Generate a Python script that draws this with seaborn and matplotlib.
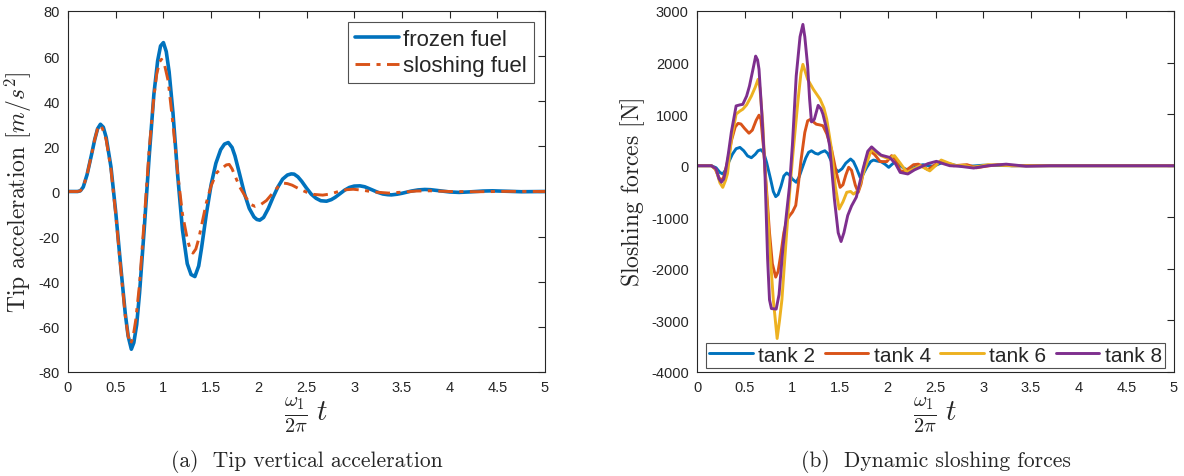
import numpy as np
import pandas as pd
import matplotlib
matplotlib.use("Agg")
import matplotlib.pyplot as plt
import seaborn as sns

# ---------------- data ----------------
t_frozen = [0.00, 0.10, 0.13, 0.16, 0.20, 0.25, 0.28, 0.31, 0.34, 0.37, 0.40, 0.45, 0.50, 0.55,
            0.60, 0.63, 0.664, 0.69, 0.72, 0.75, 0.80, 0.85, 0.90, 0.94, 0.97, 1.00, 1.03, 1.06,
            1.10, 1.15, 1.20, 1.25, 1.29, 1.33, 1.37, 1.40, 1.45, 1.50, 1.55, 1.60, 1.64, 1.68,
            1.72, 1.75, 1.80, 1.85, 1.90, 1.95, 1.98, 2.01, 2.05, 2.10, 2.15, 2.20, 2.25, 2.30,
            2.34, 2.37, 2.41, 2.45, 2.50, 2.55, 2.60, 2.65, 2.71, 2.76, 2.80, 2.85, 2.90, 2.95,
            3.00, 3.06, 3.11, 3.15, 3.20, 3.25, 3.30, 3.35, 3.39, 3.45, 3.50, 3.60, 3.67, 3.74,
            3.80, 3.90, 4.00, 4.10, 4.20, 4.35, 4.45, 4.60, 4.75, 5.00]
a_frozen = [0, 0, 0.3, 2, 7.5, 17, 23, 27.8, 29.8, 28.5, 24, 11, -9, -32,
            -54, -64, -69.9, -67, -59, -45, -16, 15, 43, 58, 64.5, 66, 62, 53,
            35, 7, -17, -32, -36.8, -37.7, -33, -25, -10, 3, 12.5, 18.5, 21, 21.7,
            19.5, 15.8, 7.5, -1, -7.5, -11.3, -12.4, -12.7, -11.5, -7.5, -2.5, 2, 5.5, 7.3,
            7.8, 7.7, 6.5, 4.5, 1.5, -1.2, -3, -4.1, -4.3, -3.6, -2.6, -1, 0.6, 1.8,
            2.4, 2.5, 2.1, 1.4, 0.5, -0.4, -1.1, -1.4, -1.5, -1.2, -0.8, 0.2, 0.7, 0.9,
            0.8, 0.3, -0.2, -0.4, -0.2, 0.2, 0.3, 0.1, -0.1, 0]

t_slosh = [0.00, 0.10, 0.13, 0.16, 0.20, 0.25, 0.28, 0.31, 0.33, 0.36, 0.40, 0.45, 0.50, 0.55,
           0.60, 0.63, 0.654, 0.68, 0.71, 0.75, 0.80, 0.85, 0.90, 0.93, 0.96, 0.98, 1.01, 1.05,
           1.10, 1.15, 1.20, 1.25, 1.28, 1.31, 1.34, 1.37, 1.40, 1.45, 1.50, 1.56, 1.62, 1.66,
           1.69, 1.72, 1.76, 1.80, 1.87, 1.92, 1.96, 2.02, 2.08, 2.15, 2.20, 2.23, 2.26, 2.30,
           2.35, 2.43, 2.50, 2.58, 2.67, 2.75, 2.85, 2.92, 2.99, 3.10, 3.20, 3.36, 3.50, 3.65,
           3.80, 4.00, 4.30, 4.60, 5.00]
a_slosh = [0, 0, 0.3, 2, 7.5, 17, 23, 27.8, 29.4, 28, 23, 10, -10, -33,
           -55, -64, -67.6, -65, -57, -41, -12, 18, 42, 52, 57.5, 58.6, 56.5, 49,
           30, 8, -10, -21, -25.5, -27.3, -25.5, -21, -15, -5, 2.5, 8.4, 10.5, 11.8,
           12, 10, 6, 2, -3, -5.8, -6.6, -5.8, -4, -0.5, 2, 3.2, 3.7, 3.5,
           2.8, 1, -0.3, -1.3, -1.6, -1.1, 0.2, 0.8, 1.0, 0.5, -0.2, -0.7, -0.3, 0.2,
           0.3, 0, -0.1, 0.05, 0]

t_tank2 = [0.00, 0.15, 0.20, 0.24, 0.27, 0.30, 0.33, 0.37, 0.41, 0.45, 0.49, 0.53, 0.57, 0.61,
           0.64, 0.67, 0.70, 0.73, 0.77, 0.80, 0.825, 0.85, 0.88, 0.91, 0.94, 0.97, 1.00, 1.04,
           1.07, 1.10, 1.14, 1.17, 1.20, 1.24, 1.27, 1.30, 1.34, 1.37, 1.40, 1.44, 1.48, 1.52,
           1.56, 1.61, 1.64, 1.67, 1.71, 1.74, 1.78, 1.82, 1.85, 1.89, 1.93, 1.97, 2.01, 2.04,
           2.07, 2.12, 2.16, 2.20, 2.26, 2.32, 2.37, 2.43, 2.48, 2.53, 2.58, 2.64, 2.70, 2.80,
           2.90, 3.00, 3.15, 3.30, 3.60, 4.00, 5.00]
f_tank2 = [0, 0, -40, -130, -160, -80, 60, 220, 330, 355, 290, 190, 155, 220,
           290, 310, 250, 60, -250, -500, -600, -560, -400, -200, -140, -180, -260, -321,
           -220, -60, 150, 260, 290, 240, 225, 260, 290, 240, 120, -40, -115, -60,
           50, 130, 80, -40, -225, -170, -30, 80, 110, 90, 77, 30, -32, 20,
           65, 20, -40, -77, -50, 0, 20, 0, -10, 30, 65, 40, 10, -15,
           -5, 10, 5, 0, 0, 0, 0]

t_tank4 = [0.00, 0.15, 0.19, 0.23, 0.255, 0.28, 0.32, 0.36, 0.40, 0.43, 0.46, 0.50, 0.545, 0.58,
           0.62, 0.65, 0.67, 0.70, 0.73, 0.76, 0.79, 0.825, 0.85, 0.88, 0.91, 0.94, 0.97, 1.00,
           1.035, 1.06, 1.09, 1.13, 1.16, 1.19, 1.22, 1.25, 1.29, 1.32, 1.36, 1.41, 1.46, 1.50,
           1.53, 1.56, 1.59, 1.62, 1.66, 1.69, 1.72, 1.76, 1.81, 1.86, 1.92, 1.99, 2.04, 2.08,
           2.13, 2.17, 2.21, 2.27, 2.32, 2.37, 2.42, 2.48, 2.55, 2.62, 2.69, 2.76, 2.83, 2.93,
           3.03, 3.15, 3.30, 3.60, 4.00, 5.00]
f_tank4 = [0, 0, -60, -230, -290, -220, 80, 480, 750, 820, 810, 720, 630, 690,
           880, 980, 900, 300, -500, -1300, -1900, -2160, -2050, -1700, -1300, -1060, -970, -900,
           -770, -400, 100, 645, 870, 900, 850, 805, 790, 775, 620, 320, -130, -420,
           -370, -180, -30, -90, -380, -515, -350, 50, 290, 220, 80, 80, 195, 120,
           -100, -110, -65, 20, 30, -20, -77, 0, 85, 40, 0, 10, 20, -40,
           -10, 20, 0, 0, 0, 0]

t_tank6 = [0.00, 0.15, 0.20, 0.24, 0.27, 0.30, 0.32, 0.36, 0.41, 0.45, 0.48, 0.52, 0.57, 0.61,
           0.64, 0.66, 0.69, 0.71, 0.74, 0.77, 0.80, 0.84, 0.865, 0.89, 0.94, 0.98, 1.01, 1.06,
           1.09, 1.11, 1.13, 1.16, 1.22, 1.29, 1.33, 1.36, 1.41, 1.45, 1.49, 1.53, 1.57, 1.61,
           1.64, 1.69, 1.76, 1.83, 1.88, 1.93, 2.00, 2.07, 2.13, 2.20, 2.27, 2.34, 2.44, 2.50,
           2.56, 2.64, 2.72, 2.80, 2.88, 2.96, 3.05, 3.20, 3.30, 3.60, 4.00, 5.00]
f_tank6 = [0, 0, -80, -330, -420, -280, -150, 500, 1000, 1060, 1095, 1180, 1350, 1520,
           1675, 1500, 800, 0, -900, -1800, -2600, -3350, -3000, -2600, -1290, -300, 320, 1290,
           1800, 1965, 1850, 1675, 1480, 1290, 1120, 900, 320, -400, -840, -700, -515, -500,
           -550, -480, -50, 320, 250, 195, 140, 195, 50, -130, -60, 0, -100, 0,
           110, 50, 0, 10, -30, -10, 20, 10, 0, 0, 0, 0]

t_tank8 = [0.00, 0.15, 0.20, 0.23, 0.255, 0.28, 0.30, 0.33, 0.36, 0.41, 0.45, 0.48, 0.52, 0.55,
           0.59, 0.615, 0.635, 0.65, 0.68, 0.71, 0.74, 0.76, 0.78, 0.83, 0.86, 0.90, 0.94, 0.97,
           1.00, 1.04, 1.08, 1.11, 1.13, 1.16, 1.18, 1.20, 1.23, 1.27, 1.30, 1.32, 1.36, 1.39,
           1.44, 1.48, 1.51, 1.54, 1.58, 1.62, 1.67, 1.74, 1.79, 1.83, 1.88, 1.93, 2.02, 2.08,
           2.13, 2.21, 2.28, 2.34, 2.42, 2.51, 2.58, 2.65, 2.75, 2.90, 3.05, 3.24, 3.45, 3.70,
           4.00, 5.00]
f_tank8 = [0, 0, -60, -250, -320, -260, -100, 250, 650, 1160, 1180, 1190, 1350, 1545,
           1900, 2125, 2050, 1870, 1000, 0, -1800, -2600, -2770, -2780, -2500, -1610, -900, -390,
           400, 1740, 2500, 2740, 2500, 1930, 1300, 850, 900, 1170, 1100, 1000, 700, 390,
           -645, -1300, -1470, -1300, -965, -780, -610, -65, 280, 365, 280, 205, 160, 40,
           -130, -160, -80, -30, 40, 85, 40, 0, -10, -45, 0, 30, -10, 0,
           0, 0]

xticks = [0, 0.5, 1, 1.5, 2, 2.5, 3, 3.5, 4, 4.5, 5]
yticks_left = [-80, -60, -40, -20, 0, 20, 40, 60, 80]
yticks_right = [-4000, -3000, -2000, -1000, 0, 1000, 2000, 3000]

# ---------------- style ----------------
sns.set_style("white")
plt.rcParams["font.family"] = ["Liberation Sans", "DejaVu Sans"]
plt.rcParams["mathtext.fontset"] = "cm"

C_BLUE = "#0072BD"
C_ORANGE = "#D95319"
C_YELLOW = "#EDB120"
C_PURPLE = "#7E2F8E"

fig = plt.figure(figsize=(11.84, 4.77), dpi=100)
axL = fig.add_axes([68 / 1184, 1 - 373 / 477, 477 / 1184, 361 / 477])
axR = fig.add_axes([697 / 1184, 1 - 373 / 477, 477 / 1184, 361 / 477])

# Left panel
df_fz = pd.DataFrame({"t": t_frozen, "a": a_frozen})
df_sl = pd.DataFrame({"t": t_slosh, "a": a_slosh})
sns.lineplot(data=df_fz, x="t", y="a", ax=axL, color=C_BLUE, lw=2.6, label="frozen fuel", sort=False)
sns.lineplot(data=df_sl, x="t", y="a", ax=axL, color=C_ORANGE, lw=2.1, label="sloshing fuel",
             sort=False, linestyle=(0, (5, 2.2, 1.4, 2.2)))

# Right panel
tanks = [("tank 2", t_tank2, f_tank2, C_BLUE),
         ("tank 4", t_tank4, f_tank4, C_ORANGE),
         ("tank 6", t_tank6, f_tank6, C_YELLOW),
         ("tank 8", t_tank8, f_tank8, C_PURPLE)]
for name, tt, ff, col in tanks:
    df = pd.DataFrame({"t": tt, "f": ff})
    sns.lineplot(data=df, x="t", y="f", ax=axR, color=col, lw=2.1, label=name, sort=False)

serif = ["cmr10", "DejaVu Serif"]
for ax, yt, ylim in [(axL, yticks_left, (-80, 80)), (axR, yticks_right, (-4000, 3000))]:
    ax.set_xlim(0, 5)
    ax.set_ylim(*ylim)
    ax.set_xticks(xticks)
    ax.set_xticklabels([f"{v:g}" for v in xticks])
    ax.set_yticks(yt)
    ax.set_yticklabels([f"{v:g}" for v in yt])
    ax.tick_params(direction="in", length=5, width=0.8, top=True, right=True,
                   labelsize=10.5, colors="#262626", pad=6)
    for s in ax.spines.values():
        s.set_color("#262626")
        s.set_linewidth(0.8)
    ax.set_xlabel(r"$\frac{\omega_1}{2\pi}\;t$", fontsize=21, labelpad=0)

axL.set_ylabel(r"Tip acceleration $[m/s^2]$", fontsize=17, family=serif, labelpad=3)
axR.set_ylabel(r"Sloshing forces $[\mathrm{N}]$", fontsize=17, family=serif, labelpad=3)

legL = axL.legend(loc="upper right", fontsize=16, frameon=True, fancybox=False,
                  edgecolor="#262626", handlelength=2.0, handletextpad=0.2,
                  borderaxespad=0.5, labelspacing=0.25, borderpad=0.3)
legL.get_frame().set_linewidth(0.8)
legR = axR.legend(loc="lower center", ncol=4, fontsize=15, frameon=True, fancybox=False,
                  edgecolor="#262626", handlelength=2.1, handletextpad=0.25,
                  columnspacing=0.45, borderaxespad=0.2, borderpad=0.15)
legR.get_frame().set_linewidth(0.8)

fig.text((68 + 545) / 2 / 1184, 1 - 462 / 477, "(a)  Tip vertical acceleration",
         ha="center", va="center", fontsize=15.5, family=serif)
fig.text((697 + 1174) / 2 / 1184, 1 - 462 / 477, "(b)  Dynamic sloshing forces",
         ha="center", va="center", fontsize=15.5, family=serif)

fig.savefig("out.png", dpi=100)
